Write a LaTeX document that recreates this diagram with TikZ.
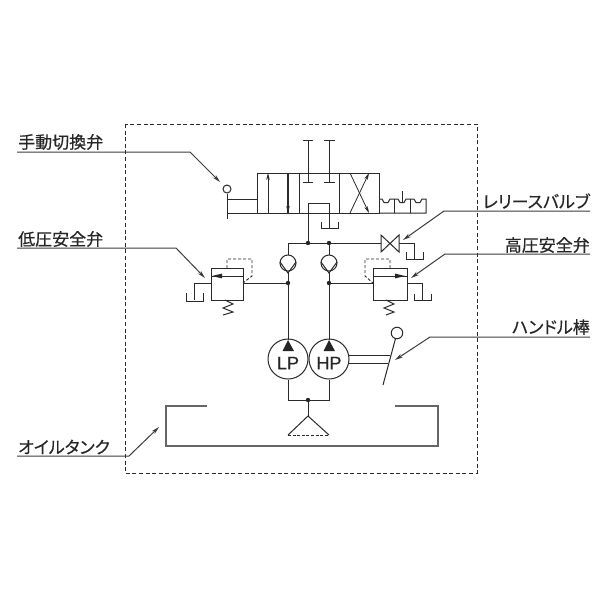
\documentclass[tikz,border=0pt]{standalone}
\usepackage{fontspec}
\newfontfamily\jpfont[FakeBold=0.35]{Noto Sans CJK JP}
\newfontfamily\jpkana[FakeBold=0.35,RawFeature={+palt}]{Noto Sans CJK JP}
\newfontfamily\latfont[FakeBold=0.6]{Liberation Sans}
\usetikzlibrary{arrows.meta}
\definecolor{ink}{HTML}{2A2A2A}
\definecolor{leadink}{HTML}{3C3C3C}
\definecolor{tankink}{HTML}{666666}
\tikzset{
  pipe/.style={draw=ink,line width=1pt},
  pilot/.style={draw=ink,line width=0.9pt,dash pattern=on 3pt off 2pt},
  frameline/.style={draw=ink,line width=0.75pt,dash pattern=on 4pt off 2.6pt},
  leaderline/.style={draw=leadink,line width=1pt,-{Stealth[length=8pt,width=4pt,fill=black]}},
  lab/.style={font=\jpfont\fontsize{17}{19}\selectfont,text=black!85,inner sep=0pt},
  kana/.style={font=\jpkana\fontsize{17}{19}\selectfont,text=black!85,inner sep=0pt},
  dotn/.style={circle,fill=black!85,inner sep=0pt,minimum size=4.4pt},
  pump/.style={circle,draw=ink,line width=1pt,minimum size=40pt,inner sep=0pt},
  ball/.style={circle,draw=ink,line width=1pt,minimum size=16pt,inner sep=0pt},
  knob/.style={circle,draw=ink,line width=1pt,fill=white,inner sep=0pt},
  ptext/.style={font=\latfont\fontsize{18}{19}\selectfont,text=black!85,inner sep=0pt},
  tip/.style={fill=black!85,draw=none},
  flowup/.style={draw=ink,line width=0.8pt,-{Stealth[length=7pt,width=3.6pt]}},
}
\begin{document}
\begin{tikzpicture}[x=1pt,y=-1pt]
\useasboundingbox (0,0) rectangle (600,600);
\fill[white] (0,0) rectangle (600,600);
% dashed frame
\draw[frameline] (125,124) rectangle (477,473);

% nodes
\node[pump] (lp) at (288,359) {};
\node[pump] (hp) at (329,359) {};
\node[ptext] (lpt) at (288,363) {LP};
\node[ptext] (hpt) at (329,363) {HP};
\node[ball] (cl) at (288,263) {};
\node[ball] (cr) at (329,263) {};
\node[dotn] (d1) at (308,243) {};
\node[dotn] (d2) at (329,243) {};
\node[dotn] (d3) at (288,283) {};
\node[dotn] (d4) at (329,283) {};
\node[dotn] (d5) at (308,400) {};
\node[knob,minimum size=8pt] (lever) at (227,189) {};
\node[knob,minimum size=11.5pt] (handle) at (397,333) {};

% pressure lines
\draw[pipe] (288,243) -- (d1) -- (d2) -- (381,243);
\draw[pipe] (288,243) -- (cl) -- (d3) -- (288,340);
\draw[pipe] (d2) -- (cr) -- (d4) -- (329,340);
\draw[pipe] (d3) -- (243,283);
\draw[pipe] (d4) -- (373,283);
\draw[pipe] (d1) -- (308,203) -- (329,203) -- (329,228);
\draw[pipe] (321,222) -- (321,228) -- (338,228) -- (338,222);
% check valve seats
\draw[pipe] (280,262) -- (288,273) -- (296,262);
\draw[pipe] (321,262) -- (329,273) -- (337,262);
% pump triangles
\fill[tip] (288,340) -- (294,351) -- (282.5,351) -- cycle;
\fill[tip] (329,340) -- (335,351) -- (323.5,351) -- cycle;
% pump suction and strainer
\draw[pipe] (lp.south) -- (288,400) -- (d5) -- (329,400) -- (hp.south);
\draw[pipe] (d5) -- (308,416);
\draw[pipe] (288,435) -- (308,416) -- (329,435);
\draw[draw=ink,line width=0.7pt,dash pattern=on 3pt off 1.6pt] (288,435) -- (329,435);
% handle
\draw[pipe] (349,355) -- (390,355);
\draw[pipe] (349,363) -- (388,363);
\draw[pipe] (383,385) -- (handle);
% tank
\draw[draw=tankink,line width=1.2pt] (207,406) -- (166,406) -- (166,446) -- (438,446) -- (438,406) -- (395,406);

% directional valve
\draw[pipe] (257,173) rectangle (379,213);
\draw[pipe] (299,173) -- (299,213);
\draw[pipe] (339,173) -- (339,213);
\draw[draw=ink,line width=1.2pt] (288,173) -- (288,213);
\draw[flowup] (268,213) -- (268,173);
\draw[flowup] (288,173) -- (288,213);
\draw[flowup] (350,213) -- (369,173);
\draw[flowup] (350,173) -- (369,213);
\draw[pipe] (303,140) -- (313,140) (308,140) -- (308,182) (303,182) -- (313,182);
\draw[pipe] (323.5,140) -- (334.5,140) (329,140) -- (329,182) (323.5,182) -- (334.5,182);
% lever side
\draw[pipe] (lever) -- (227,219);
\draw[pipe] (227,199) -- (257,199);
\draw[pipe] (227,213) -- (257,213);
% detent
\draw[pipe] (379,213) -- (426,213) -- (426,199) -- (422,199) -- (420,202.5) -- (416,202.5) -- (414,199) -- (410,199)
  -- (406,199) -- (404,202.5) -- (400,202.5) -- (398,199) -- (394,199)
  -- (390,199) -- (388,202.5) -- (384,202.5) -- (382,199) -- (379,199);
\draw[pipe] (394,199) -- (394,213) (410,199) -- (410,213) (402,191) -- (402,202);

% release valve
\draw[pipe] (381,235) -- (399,252) -- (399,235) -- (381,252) -- cycle;
\draw[pipe] (399,243) -- (414,243) -- (414,259);
\draw[pipe] (406,252) -- (406,259) -- (423,259) -- (423,252);

% left relief valve
\draw[pipe] (211,268) rectangle (243,300);
\draw[pipe] (211,276) -- (243,276);
\fill[tip] (212,276) -- (222,273.6) -- (222,278.4) -- cycle;
\draw[pilot] (227,268) -- (227,259) -- (252,259) -- (252,276) -- (243,283);
\draw[pipe] (211,283) -- (194,283) -- (194,300);
\draw[pipe] (186,293) -- (186,301) -- (203,301) -- (203,293);
\draw[pipe] (225,300) -- (233,304) -- (223,308) -- (233,312) -- (223,315);

% right relief valve
\draw[pipe] (373,268) rectangle (407,300);
\draw[pipe] (373,276) -- (407,276);
\fill[tip] (405,276) -- (395,273.6) -- (395,278.4) -- cycle;
\draw[pilot] (390,268) -- (390,259) -- (365,259) -- (365,276) -- (373,283);
\draw[pipe] (407,283) -- (422,283) -- (422,300);
\draw[pipe] (414,294) -- (414,300) -- (431,300) -- (431,294);
\draw[pipe] (386,300) -- (394,304) -- (384,308) -- (394,312) -- (386,315);

% labels and leaders
\node[lab,anchor=west] (l1) at (18,142) {手動切換弁};
\node[lab,anchor=west] (l2) at (18,239) {低圧安全弁};
\node[kana,anchor=east] (l3) at (590,201) {レリースバルブ};
\node[lab,anchor=east] (l4) at (590,245) {高圧安全弁};
\node[kana,anchor=east] (l5) at (590,327) {ハンドル棒};
\node[kana,anchor=west] (l6) at (18,447) {オイルタンク};

\coordinate (t1) at (220,182);
\coordinate (t2) at (205,278);
\coordinate (t3) at (403,240);
\coordinate (t4) at (411,278);
\coordinate (t5) at (395,360);
\coordinate (t6) at (159,427);
\draw[leaderline] (17,152) -- (190,152) -- (t1);
\draw[leaderline] (17,248) -- (176,248) -- (t2);
\draw[leaderline] (590,211) -- (444,211) -- (t3);
\draw[leaderline] (590,254) -- (445,254) -- (t4);
\draw[leaderline] (590,337) -- (430,337) -- (t5);
\draw[leaderline] (17,456) -- (129,456) -- (t6);
\end{tikzpicture}
\end{document}
